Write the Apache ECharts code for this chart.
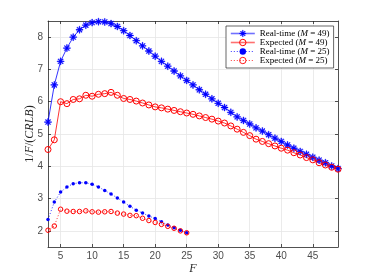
<!DOCTYPE html>
<html><head><meta charset="utf-8">
<script src="https://cdn.jsdelivr.net/npm/echarts@6/dist/echarts.min.js"></script>
<style>html,body{margin:0;padding:0;background:#fff}#c{width:374px;height:280px}</style>
</head><body><div id="c"></div>
<script>
const framesM49 = [3,4,5,6,7,8,9,10,11,12,13,14,15,16,17,18,19,20,21,22,23,24,25,26,27,28,29,30,31,32,33,34,35,36,37,38,39,40,41,42,43,44,45,46,47,48,49];
const realtimeM49 = [5.37,6.52,7.25,7.66,8.00,8.23,8.37,8.45,8.48,8.47,8.42,8.33,8.20,8.05,7.89,7.73,7.57,7.41,7.25,7.10,6.95,6.80,6.66,6.52,6.37,6.23,6.09,5.95,5.82,5.67,5.53,5.42,5.31,5.19,5.09,4.98,4.87,4.77,4.66,4.56,4.46,4.37,4.28,4.19,4.11,4.01,3.93];
const expectedM49 = [4.52,4.82,6.00,5.94,6.07,6.09,6.20,6.17,6.23,6.25,6.29,6.20,6.10,6.07,6.02,5.96,5.90,5.84,5.81,5.77,5.73,5.69,5.65,5.61,5.56,5.51,5.46,5.40,5.34,5.25,5.15,5.05,4.95,4.84,4.77,4.70,4.63,4.56,4.50,4.42,4.35,4.27,4.20,4.11,4.04,3.97,3.91];
const framesM25 = [3,4,5,6,7,8,9,10,11,12,13,14,15,16,17,18,19,20,21,22,23,24,25];
const realtimeM25 = [2.35,2.89,3.20,3.36,3.46,3.49,3.49,3.44,3.36,3.25,3.14,3.02,2.89,2.76,2.64,2.55,2.46,2.38,2.28,2.18,2.10,2.02,1.94];
const expectedM25 = [2.02,2.15,2.67,2.61,2.60,2.60,2.62,2.59,2.58,2.59,2.60,2.55,2.52,2.48,2.47,2.39,2.32,2.26,2.20,2.14,2.08,2.00,1.94];
const xTicks = [5,10,15,20,25,30,35,40,45];
const yTicks = [2,3,4,5,6,7,8];
const seriesNames = ['Real-time (M = 49)','Expected (M = 49)','Real-time (M = 25)','Expected (M = 25)'];

const zip = (xs, ys) => xs.map((x, i) => [x, ys[i]]);
const asterisk = 'path://M0 8.8L20 8.8L20 11.2L0 11.2Z M8.8 0L11.2 0L11.2 20L8.8 20Z M2.2 3.9L3.9 2.2L17.8 16.1L16.1 17.8Z M16.1 2.2L17.8 3.9L3.9 17.8L2.2 16.1Z';
const BLUE = '#0000ff', RED = '#ff0000', AX = '#262626';
const labelFont = {fontFamily: 'Liberation Sans, Arial, sans-serif', fontSize: 10, color: '#4d4d4d'};

const chart = echarts.init(document.getElementById('c'), null, {renderer: 'canvas'});
const baseX = {type: 'value', min: 3, max: 49, interval: 5};
const baseY = {type: 'value', min: 1.5, max: 8.5, interval: 1};
chart.setOption({
  backgroundColor: '#fff',
  animation: false,
  grid: {left: 48, right: 36, top: 21, bottom: 31},
  legend: {
    orient: 'vertical', left: 226, top: 26,
    padding: [3, 4, 3, 4], itemGap: 0, itemWidth: 24, itemHeight: 8,
    borderColor: AX, borderWidth: 0.7, backgroundColor: '#fff',
    data: [
      {name: seriesNames[0], itemStyle: {borderWidth: 0.4}, lineStyle: {width: 1.6, color: '#7070ff'}},
      {name: seriesNames[1], itemStyle: {borderWidth: 1}, lineStyle: {width: 1.6, color: '#ff7070'}},
      {name: seriesNames[2], lineStyle: {width: 0.8}},
      {name: seriesNames[3], itemStyle: {borderWidth: 0.9}, lineStyle: {width: 0.8}}
    ],
    formatter: n => n.replace('M', '{i|M}'),
    textStyle: {fontFamily: 'Liberation Serif, Times New Roman, serif', fontSize: 9, color: '#000', lineHeight: 9,
      rich: {i: {fontFamily: 'Liberation Serif, serif', fontStyle: 'italic', fontSize: 9, lineHeight: 9}}}
  },
  xAxis: [
    Object.assign({}, baseX, {
      position: 'bottom',
      name: 'F', nameLocation: 'middle', nameGap: 16, nameMoveOverlap: false,
      nameTextStyle: {fontFamily: 'Liberation Serif, serif', fontStyle: 'italic', fontSize: 12, color: '#262626'},
      axisLine: {show: true, onZero: false, lineStyle: {color: AX, width: 0.8}},
      axisTick: {show: true, inside: true, length: 3, customValues: xTicks, lineStyle: {color: AX, width: 0.8}},
      axisLabel: {show: true, customValues: xTicks, margin: 4, ...labelFont},
      splitLine: {show: true, lineStyle: {color: '#e6e6e6', width: 0.8}}
    }),
    Object.assign({}, baseX, {
      position: 'top',
      axisLine: {show: true, onZero: false, lineStyle: {color: AX, width: 0.8}},
      axisTick: {show: true, inside: true, length: 3, customValues: xTicks, lineStyle: {color: AX, width: 0.8}},
      axisLabel: {show: false},
      splitLine: {show: false}
    })
  ],
  yAxis: [
    Object.assign({}, baseY, {
      position: 'left',
      name: '1/{i|F}/({i|CRLB})', nameLocation: 'middle', nameGap: 12, nameRotate: 90, nameMoveOverlap: false,
      nameTextStyle: {fontFamily: 'Liberation Serif, serif', fontSize: 12, color: '#262626',
        rich: {i: {fontFamily: 'Liberation Serif, serif', fontStyle: 'italic', fontSize: 12, color: '#262626'}}},
      axisLine: {show: true, onZero: false, lineStyle: {color: AX, width: 0.8}},
      axisTick: {show: true, inside: true, length: 3, customValues: yTicks, lineStyle: {color: AX, width: 0.8}},
      axisLabel: {show: true, customValues: yTicks, margin: 5, ...labelFont},
      splitLine: {show: true, lineStyle: {color: '#e6e6e6', width: 0.8}}
    }),
    Object.assign({}, baseY, {
      position: 'right',
      axisLine: {show: true, onZero: false, lineStyle: {color: AX, width: 0.8}},
      axisTick: {show: true, inside: true, length: 3, customValues: yTicks, lineStyle: {color: AX, width: 0.8}},
      axisLabel: {show: false},
      splitLine: {show: false}
    })
  ],
  series: [
    {name: seriesNames[0], type: 'line', data: zip(framesM49, realtimeM49),
     symbol: asterisk, symbolSize: 7, showAllSymbol: true,
     lineStyle: {color: BLUE, width: 0.8}, itemStyle: {color: BLUE, borderColor: BLUE, borderWidth: 0.4}},
    {name: seriesNames[1], type: 'line', data: zip(framesM49, expectedM49),
     symbol: 'circle', symbolSize: 6, showAllSymbol: true,
     lineStyle: {color: RED, width: 0.8}, itemStyle: {color: 'rgba(0,0,0,0)', borderColor: RED, borderWidth: 1}},
    {name: seriesNames[2], type: 'line', data: zip(framesM25, realtimeM25),
     symbol: 'circle', symbolSize: 3.5, showAllSymbol: true,
     lineStyle: {color: BLUE, width: 0.8, type: [1, 2]}, itemStyle: {color: BLUE}},
    {name: seriesNames[3], type: 'line', data: zip(framesM25, expectedM25),
     symbol: 'circle', symbolSize: 4.5, showAllSymbol: true,
     lineStyle: {color: RED, width: 0.8, type: [1, 2]}, itemStyle: {color: 'rgba(0,0,0,0)', borderColor: RED, borderWidth: 1}}
  ]
});
</script></body></html>
